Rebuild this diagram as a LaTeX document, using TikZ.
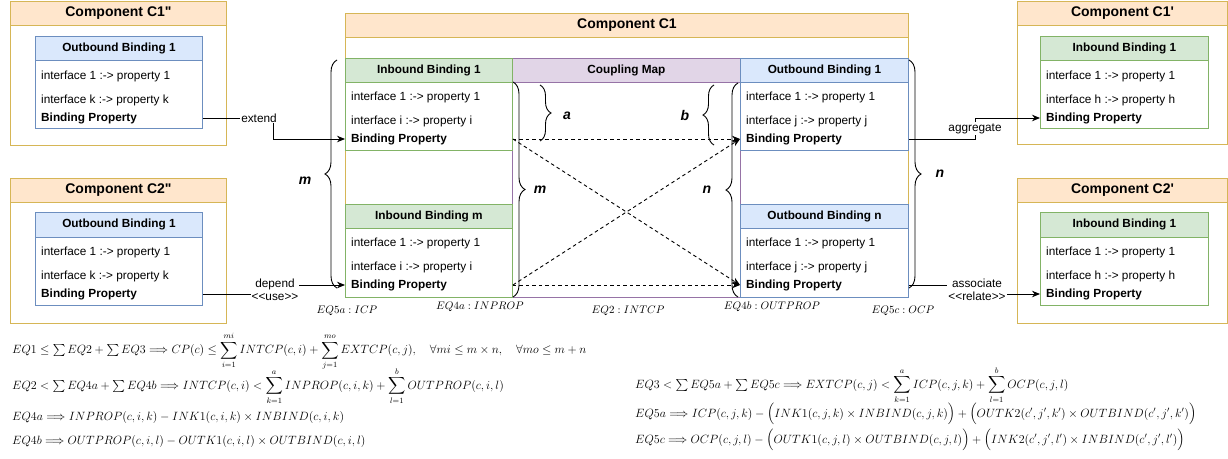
\documentclass[tikz,border=0pt]{standalone}
\usepackage{amsmath,amssymb}
\usepackage{fontspec}
\newfontfamily\diofont{Liberation Sans}
\usetikzlibrary{arrows.meta,decorations.pathreplacing}
\definecolor{orfill}{HTML}{FFE6CC}
\definecolor{orline}{HTML}{D6B656}
\definecolor{blfill}{HTML}{DAE8FC}
\definecolor{blline}{HTML}{6C8EBF}
\definecolor{grfill}{HTML}{D5E8D4}
\definecolor{grline}{HTML}{82B366}
\definecolor{pufill}{HTML}{E1D5E7}
\definecolor{puline}{HTML}{9673A6}
\tikzset{box/.style={anchor=north west, inner sep=0pt, line width=0.9pt, fill=white},
    comptitle/.style={box, draw=orline, fill=orfill, minimum height=24pt, font=\diofont\bfseries\fontsize{14}{16}\selectfont},
    bindtitle/.style={box, minimum height=24pt, font=\diofont\bfseries\fontsize{11.8}{14}\selectfont},
    prop/.style={anchor=west, inner sep=0pt, font=\diofont\fontsize{11.8}{14}\selectfont},
    bprop/.style={prop, font=\diofont\bfseries\fontsize{11.8}{14}\selectfont},
    lbl/.style={fill=white, inner sep=1pt, align=center, font=\diofont\fontsize{11.8}{13}\selectfont},
    flow/.style={line width=0.9pt, -{Stealth[length=8pt,width=6.5pt]}},
    cross/.style={flow, dash pattern=on 3.5pt off 3pt},
    brc/.style={decorate, decoration={brace, amplitude=12pt}, line width=0.9pt},
    brclbl/.style={font=\diofont\bfseries\itshape\fontsize{14}{16}\selectfont},
    eqlbl/.style={inner sep=0pt, font=\fontsize{11}{13}\selectfont},
    eqn/.style={anchor=west, inner sep=0pt, font=\fontsize{12}{14}\selectfont}}

\begin{document}
\begin{tikzpicture}[x=1pt, y=-1pt]
    \useasboundingbox (0,0) rectangle (1228,458);

    \node (cpa) at (10,1) [box, draw=orline, minimum width=216pt, minimum height=144pt] {};
    \node (cpah) at (10,1) [comptitle, minimum width=216pt] {Component C1"};
    \node (cpaob) at (35,36) [box, draw=blline, minimum width=167pt, minimum height=92pt] {};
    \node (cpaobh) at (35,36) [bindtitle, draw=blline, fill=blfill, minimum width=167pt] {Outbound Binding 1};
    \node (cpaob1) at (41,76) [prop] {interface 1 :-> property 1};
    \node (cpaobk) at (41,100) [prop] {interface k :-> property k};
    \node (cpaobbp) at (41,118) [bprop] {Binding Property};

    \node (cpb) at (10,178) [box, draw=orline, minimum width=216pt, minimum height=145pt] {};
    \node (cpbh) at (10,178) [comptitle, minimum width=216pt] {Component C2"};
    \node (cpbob) at (35,212) [box, draw=blline, minimum width=167pt, minimum height=93pt] {};
    \node (cpbobh) at (35,212) [bindtitle, draw=blline, fill=blfill, minimum width=167pt, minimum height=25pt] {Outbound Binding 1};
    \node (cpbob1) at (41,252) [prop] {interface 1 :-> property 1};
    \node (cpbobk) at (41,276) [prop] {interface k :-> property k};
    \node (cpbobbp) at (41,294) [bprop] {Binding Property};

    \node (ca) at (345,13) [box, draw=orline, minimum width=563pt, minimum height=284pt] {};
    \node (cah) at (345,13) [comptitle, minimum width=563pt] {Component C1};
    \node (cmap) at (512,58) [box, draw=puline, minimum width=228pt, minimum height=239pt] {};
    \node (cmaph) at (512,58) [bindtitle, draw=puline, fill=pufill, minimum width=228pt] {Coupling Map};

    \node (ib1) at (345,58) [box, draw=grline, minimum width=167pt, minimum height=92pt] {};
    \node (ib1h) at (345,58) [bindtitle, draw=grline, fill=grfill, minimum width=167pt] {Inbound Binding 1};
    \node (ib11) at (351,97) [prop] {interface 1 :-> property 1};
    \node (ib1i) at (351,121) [prop] {interface i :-> property i};
    \node (ib1bp) at (351,139) [bprop] {Binding Property};

    \node (ibm) at (345,204) [box, draw=grline, minimum width=167pt, minimum height=93pt] {};
    \node (ibmh) at (345,204) [bindtitle, draw=grline, fill=grfill, minimum width=167pt] {Inbound Binding m};
    \node (ibm1) at (351,243) [prop] {interface 1 :-> property 1};
    \node (ibmi) at (351,267) [prop] {interface i :-> property i};
    \node (ibmbp) at (351,285) [bprop] {Binding Property};

    \node (ob1) at (740,58) [box, draw=blline, minimum width=168pt, minimum height=92pt] {};
    \node (ob1h) at (740,58) [bindtitle, draw=blline, fill=blfill, minimum width=168pt] {Outbound Binding 1};
    \node (ob11) at (746,97) [prop] {interface 1 :-> property 1};
    \node (ob1j) at (746,121) [prop] {interface j :-> property j};
    \node (ob1bp) at (746,139) [bprop] {Binding Property};

    \node (obn) at (740,204) [box, draw=blline, minimum width=168pt, minimum height=93pt] {};
    \node (obnh) at (740,204) [bindtitle, draw=blline, fill=blfill, minimum width=168pt] {Outbound Binding n};
    \node (obn1) at (746,243) [prop] {interface 1 :-> property 1};
    \node (obnj) at (746,267) [prop] {interface j :-> property j};
    \node (obnbp) at (746,285) [bprop] {Binding Property};

    \node (cc) at (1017,1) [box, draw=orline, minimum width=210pt, minimum height=143pt] {};
    \node (cch) at (1017,1) [comptitle, minimum width=210pt] {Component C1'};
    \node (ccib) at (1040,36) [box, draw=grline, minimum width=168pt, minimum height=92pt] {};
    \node (ccibh) at (1040,36) [bindtitle, draw=grline, fill=grfill, minimum width=168pt] {Inbound Binding 1};
    \node (ccib1) at (1046,76) [prop] {interface 1 :-> property 1};
    \node (ccibh2) at (1046,100) [prop] {interface h :-> property h};
    \node (ccibbp) at (1046,118) [bprop] {Binding Property};

    \node (cd) at (1017,178) [box, draw=orline, minimum width=210pt, minimum height=145pt] {};
    \node (cdh) at (1017,178) [comptitle, minimum width=210pt] {Component C2'};
    \node (cdib) at (1040,212) [box, draw=grline, minimum width=168pt, minimum height=93pt] {};
    \node (cdibh) at (1040,212) [bindtitle, draw=grline, fill=grfill, minimum width=168pt, minimum height=25pt] {Inbound Binding 1};
    \node (cdib1) at (1046,252) [prop] {interface 1 :-> property 1};
    \node (cdibh2) at (1046,276) [prop] {interface h :-> property h};
    \node (cdibbp) at (1046,294) [bprop] {Binding Property};

    \draw[cross] (ib1.east |- ib1bp) -- (ob1.west |- ob1bp);
    \draw[cross] (ib1.east |- ib1bp) -- (obn.west |- obnbp);
    \draw[cross] (ibm.east |- ibmbp) -- (ob1.west |- ob1bp);
    \draw[cross] (ibm.east |- ibmbp) -- (obn.west |- obnbp);

    \draw[flow] (cpaob.east |- cpaobbp) -- (273,118) node[lbl, pos=0.8] {extend} -- (273,139) -- (ib1.west |- ib1bp);
    \draw[flow] (cpbob.east |- cpbobbp) -- (275,294) -- (275,285) node[lbl, midway] {depend\\<<use>>} -- (ibm.west |- ibmbp);
    \draw[flow] (ob1.east |- ob1bp) -- (975,139) -- (975,118) node[lbl, midway] {aggregate} -- (ccib.west |- ccibbp);
    \draw[flow] (obn.east |- obnbp) -- (977,285) -- (977,294) node[lbl, midway] {associate\\<<relate>>} -- (cdib.west |- cdibbp);

    \draw[brc] (337,288) -- (337,60) node[brclbl, midway, xshift=-32pt, yshift=-7pt] {m};
    \draw[brc] (909,60) -- (909,288) node[brclbl, midway, xshift=31pt] {n};
    \draw[brc] (513,82) -- (513,297) node[brclbl, midway, xshift=27pt] {m};
    \draw[brc] (738,297) -- (738,83) node[brclbl, midway, xshift=-31pt] {n};
    \draw[brc, decoration={amplitude=11pt}] (540,85) -- (540,141) node[brclbl, midway, xshift=27pt, yshift=-3pt] {a};
    \draw[brc, decoration={amplitude=11pt}] (714,145) -- (714,85) node[brclbl, midway, xshift=-29pt] {b};

    \node (qicp) at (347,311) [eqlbl] {$EQ5a : ICP$};
    \node (qinprop) at (480,307) [eqlbl] {$EQ4a : INPROP$};
    \node (qintcp) at (628,311) [eqlbl] {$EQ2 : INTCP$};
    \node (qoutprop) at (772,307) [eqlbl] {$EQ4b : OUTPROP$};
    \node (qocp) at (903,311) [eqlbl] {$EQ5c : OCP$};

    \node (eqone) at (12,351) [eqn] {$EQ1 \leq \sum EQ2 + \sum EQ3 \Longrightarrow CP(c) \leq \displaystyle\sum_{i=1}^{mi} INTCP(c,i) + \sum_{j=1}^{mo} EXTCP(c,j), \quad \forall mi \leq m \times n, \quad \forall mo \leq m + n$};
    \node (eqtwo) at (12,386) [eqn] {$EQ2 < \sum EQ4a + \sum EQ4b \Longrightarrow INTCP(c,i) < \displaystyle\sum_{k=1}^{a} INPROP(c,i,k) + \sum_{l=1}^{b} OUTPROP(c,i,l)$};
    \node (eqfoura) at (12,417) [eqn] {$EQ4a \Longrightarrow INPROP(c,i,k) - INK1(c,i,k) \times INBIND(c,i,k)$};
    \node (eqfourb) at (12,441) [eqn] {$EQ4b \Longrightarrow OUTPROP(c,i,l) - OUTK1(c,i,l) \times OUTBIND(c,i,l)$};
    \node (eqthree) at (635,385) [eqn] {$EQ3 < \sum EQ5a + \sum EQ5c \Longrightarrow EXTCP(c,j) < \displaystyle\sum_{k=1}^{a} ICP(c,j,k) + \sum_{l=1}^{b} OCP(c,j,l)$};
    \node (eqfivea) at (635,414) [eqn] {$EQ5a \Longrightarrow ICP(c,j,k) - \Big(INK1(c,j,k) \times INBIND(c,j,k)\Big) + \Big(OUTK2(c',j',k') \times OUTBIND(c',j',k')\Big)$};
    \node (eqfivec) at (635,440) [eqn] {$EQ5c \Longrightarrow OCP(c,j,l) - \Big(OUTK1(c,j,l) \times OUTBIND(c,j,l)\Big) + \Big(INK2(c',j',l') \times INBIND(c',j',l')\Big)$};
\end{tikzpicture}
\end{document}
